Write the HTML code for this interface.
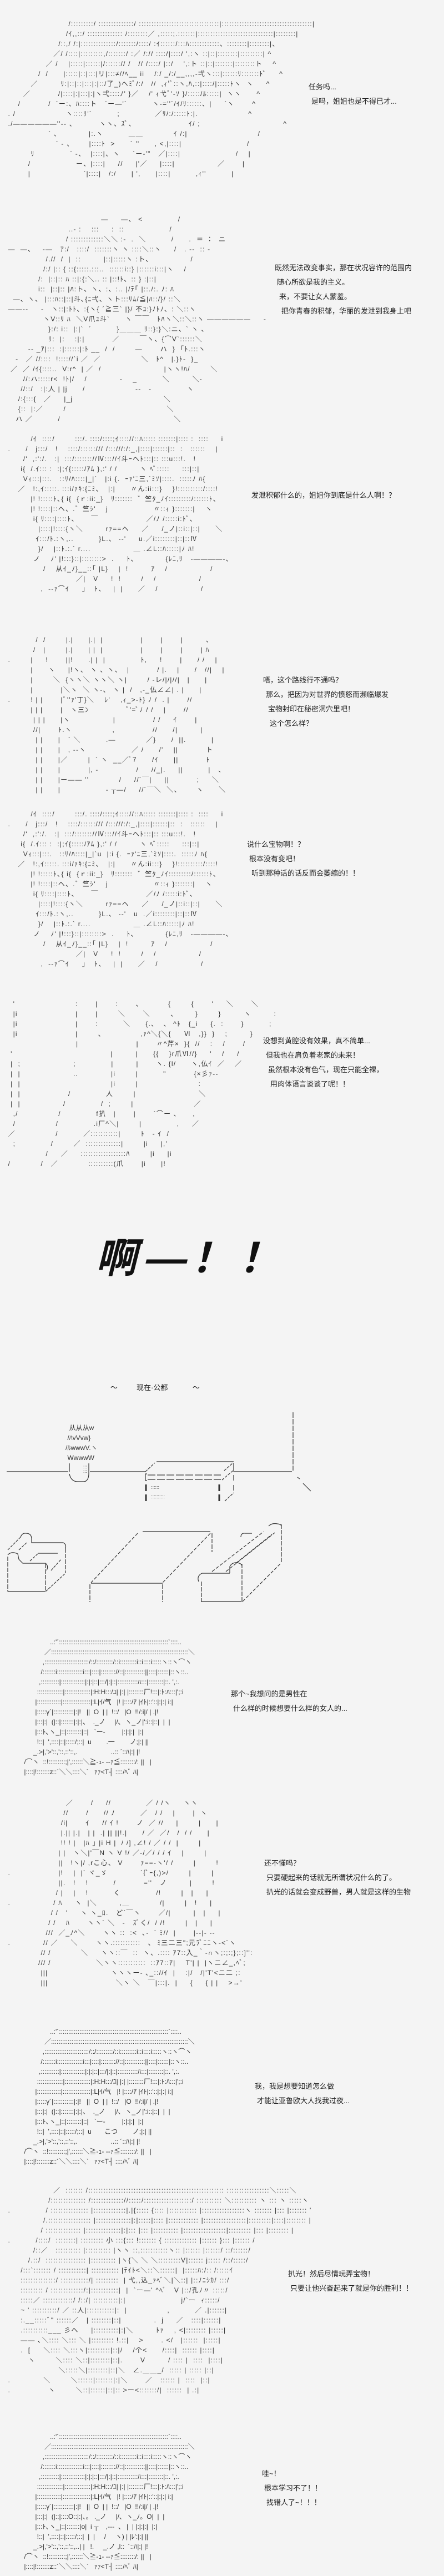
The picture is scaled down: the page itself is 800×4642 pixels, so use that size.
<!DOCTYPE html>
<html><head><meta charset="utf-8">
<style>
html,body{margin:0;padding:0;width:800px;height:4642px;overflow:hidden;background:#f4f4f4;}
#w{position:relative;width:800px;height:4642px;overflow:hidden;background:#f4f4f4;}
pre{position:absolute;margin:0;font-family:"Liberation Sans","Noto Sans CJK JP",sans-serif;font-size:12px;line-height:18px;color:#333;white-space:pre;letter-spacing:1.2px;}
pre.g{letter-spacing:0;}
.t{position:absolute;font-family:"Liberation Sans","Noto Sans CJK SC",sans-serif;font-size:13px;line-height:26px;color:#222;white-space:nowrap;}
.t div{height:26px;}
svg{position:absolute;left:0;top:0;}
</style></head><body><div id="w">

<pre style="left:10px;top:34px">                         /:::::::::/ ::::::::::::::/ ::::::::::::::::::::::::::::::::|::::::::::::::::::::::::::::::::::::|
                        /ｲ,,::/ :::::::::::::: /::::::::／ ,:::::;.:::::::|::::::::::::::::::::::::::::::|::::::::|
                     /::,/ /:|::::::::::::::/:::::::/::::/ :ｲ::::::/:::ﾊ::::::::::::、::::::::|::::::::|、
                   ／/ /::::|:::::::::,/:::::::/ :／ /:// ::::/|::::/ ',:ヽ ::|::|::::::::|:::::::::| ^
                ／ /    |:::::|::::::|/::::::// /   // /::::/ |::/    ',:ト ::|::|:::::::|::::::::ト    ^
             /  /      |:::::|::|:::|リ|:::≠//ﾍ__ ii    /:/ _/:/__,,,,-弌ヽ:::|::::::ﾘ:::::::ﾄﾞ     ^
          ／         ﾘ:|::|::|:::|:|::/了_)ヘﾐﾞ/:/   //  ,ｨ'ﾞ::ヽ,ﾊ,::|::::/|:::::ﾄヽ  ヽ     ^
       ／           /|::::|:|:::|:|ヽ弌::::ﾉ' }／    /' ｨ弋ﾞ'-ｿ }/:::::/ﾙ:::::|  ヽヽ      ^
     /           /  `ー:、ﾊ::::ト   `ー―'´          ヽ-=''´/ｲ/ﾘ::::::、|     `ヽ       ^
 . /                    ヽ::::ﾘ'´          ;              ／ﾘ/:/:::::ﾄ:|.                    ^
 ./――――――''-- 、         ヽヽ、ｽﾞ、                     ｲ/ ;                                 ^
                 ` 、           |:.ヽ          ＿＿            ｲ /:|                            /
                    ` - 、      |::::ﾄ  &gt;      ` ''      , &lt;,|::::|                          /
          ﾘ              ` -、  |::::|、ヽ     `ー-'"   ／|::::|                      /    |
         /                  ー、|::::|     //     |'／     |::::|                 ／       |
         |                     `|::::|   /:/      | ',      |::::|          ,ｨ''          |</pre>
<div class="t" style="left:556px;top:144px"><div>任务吗...</div><div style="padding-left:5px">是吗，姐姐也是不得已才...</div></div>

<pre style="left:10px;top:386px">                                      ―     ―、 &lt;              /
                         ..- :    :::     :  ::                  /
                        / :::::::::::::＼＼ :-  .  ＼          /      .  ＝ ：  ニ
 ―  ―、   -―   ｱ:/   ::::/  :::::::ヽ ヽ ::::＼::ヽ     /   . --  :: -
                /.//  /  |  ::         |::|:::::ヽ :ト、               /
               /:/ |:: { ::{:::::.:::..  ::::::i::} |::::::i:::|ヽ    /
             /:  |::|:: ﾊ ::|:{:＼.. :: |::!ﾄ、:: } :|::|
             i::  |::|:: |ﾊ:ト、ヽ、:、:.. |/ﾃ｢ |::./:. ﾉ: ﾊ
   ―、ヽ、 |:::ﾊ::|::|斗､{ﾆ弌、ヽト:::ﾘﾑ/≦|ﾊ::/}/ ::＼
 ――--     -   ヽ::|:ﾄﾄ、:{ヽ{ ´≧三` |}/ 不ﾕ:}ﾉﾄﾉ、: ＼::ヽ
               ヽV::ﾘ ﾊ  ＼V爪ﾕ斗`      ヽ ￣￣   ﾄﾊヽ＼::＼::ヽ ――――――     -
                 }:/: i::  |:|`  ´          }＿＿＿ ﾘ::}:}＼:ニ、` ヽ 、
                 ﾘ:  |:    :|:|           ／        ￣ヽ、{⌒V`::::::＼
         -- _ｱ|:::  :|::::::|:ﾄ __  /  /        ―       ハ  }  ｢ﾄ.:::ヽ
    -   ／ //::::  !:::://`i ／  ／                ＼   ﾄ^   |.}ﾄ-  }_
  ／  ／ /ｲ{::::..  V:r^  | ／  /                         |ヽヽ!ﾊ/        ＼
       //:ハ:::::r&lt;  !ﾄ|/    /             -    _          ＼         ＼-
      //::/   :|:人 | |j      /                    --   -              ヽ
     /:{:::{   ／     |_j                                    ＼
     {::  |:／        /                                        ＼
    ハ ／          /                                             ＼</pre>
<div class="t" style="left:495px;top:470px"><div>既然无法改变事实，那在状况容许的范围内</div><div style="padding-left:4px">随心所欲是我的主义。</div><div style="padding-left:8px">来，不要让女人蒙羞。</div><div style="padding-left:12px">把你青春的积郁，华丽的发泄到我身上吧</div></div>

<pre style="left:10px;top:782px">          /ｲ  ::::/        :::/. ::::/::::;ｲ:::://::ﾊ::::: :::::::|:::: :  ::::     i
 .      /   j:::/   !    ::::/::::::/// /:::///:/:_,|::::|::::::|::  :   ::::::    |
       /'  ,:':/.   :|  :::/::::::://Ⅳ::://ｲ斗ｰヘﾄ:::|:: :::u:::!.   !
      i{  /.ｲ::: :  :|;ｲ{:::::/ｱﾑ },:' / /         ヽ ﾍﾞ:::::     :::|::|
       Vｨ:::|:::.   ::ﾘ/ﾊ::::|_|`   |:i {.  ｰｧ'ﾆ三,`ﾐｿ|::::.  :::::ﾉ ﾊ{
     ／   !:,ｲ:::::. :::i/ｧｷ:{ﾆﾐ、  |:|      〃ん:ii:::}    }!::::::::::/::::!
          |! !:::::ﾄ､{ i{  {ｒ:ii:_}   ﾘ:::::::  ゛竺ﾀ_ﾉｲ:::::::::/::::::ﾄ、
          |! !::::|::ヘ、.゛竺ｼ'    j                  〃::ｨ }:::::::|    ヽ
           i{ ﾘ::::|::::ﾄ、     ￣                   ／/ﾉ /:::::i:ﾄﾞ､
             |::::|!::::{ヽ＼         rｧ==ヘ     ／     /_ノ|::i::|::|      ＼
            ｲ:::/ﾄ.:ヽ,..          }L.、 --'     u.／i::::::::|::|::Ⅳ
             }/    |::ﾄ.:.` r....                 ＿ .∠L::ﾊ:::::|ﾉ ﾊ!
           ノ    ﾉ' |!:::}::|::::::::&gt;  .     ﾄ、           {ﾚﾆ,ﾘ   -――――-、
               /    从ｲ_ﾉ}__::｢ |L}    |  !         ｱ    /                 /
                            ／|   V     !  !        /    /                 /
              ,  --ｧ⌒ｲ     」  ﾄ、   |  |      ／    /                 /</pre>
<div class="t" style="left:453px;top:880px"><div>发泄积郁什么的，姐姐你到底是什么人啊！？</div></div>

<pre style="left:10px;top:1144px">            /  /        |.|      |.|  |               |       |       |         、
           /   |        |.|      | |  |               |       |       |       | ﾊ
 .        |     !       ||!      .| |  |              ﾄ,     !       |      / /    |
          |      ヽ     |!ヽ、 ヽ 、ヽ、  |           / |.    |      /   //|    |
          |        ＼  {ヽヽ＼ ヽヽ＼ ヽ|        / -レ/|/|//|   |      |
          |           |＼ヽ  ＼ ヽ-、 ヽ |  /   ,-_仏∠∠| . |      |
 .        ! | |       |ﾞ''ｧ'丁}＼    ﾚ'    ,ｨ_&gt;-ﾄ} ﾉ /  . |       //
          | | |       |   ヽ三ﾝ               ﾞ'=ﾞﾉ / /    |       //
           | | |      |ヽ                 |               / /     ｲ       |
           //|       ﾄ.ヽ                ,               //      /|         |
            | |      |   ` ＼          .―            ／}      /  ||.          |
            | |      |   , --ヽ                  ／ /      /'    ||           ト
            | |      |／        |  ` ヽ  __／ﾞ7      /ｲ      ||           ﾄ
            | |      |           |, -               /     //_|.     ||          |   、
            | |      |ー―― ''            /     //´￣|     ||           ;     ＼
            | |      |                  - ┬―/     //´￣＼  ＼、      ヽ      ＼</pre>
<div class="t" style="left:474px;top:1213px"><div>唔，这个路线行不通吗？</div><div style="padding-left:5px">那么，把因为对世界的愤怒而濒临爆发</div><div style="padding-left:9px">宝物封印在秘密洞穴里吧！</div><div style="padding-left:12px">这个怎么样？</div></div>

<pre style="left:10px;top:1458px">          /ｲ  ::::/        :::/. ::::/::::;ｲ:::://::ﾊ::::: :::::::|:::: :  ::::     i
 .      /   j:::/   !    ::::/::::::/// /:::///:/:_,|::::|::::::|::  :   ::::::    |
       /'  ,:':/.   :|  :::/::::::://Ⅳ::://ｲ斗ｰヘﾄ:::|:: :::u:::!.   !
      i{  /.ｲ::: :  :|;ｲ{:::::/ｱﾑ },:' / /         ヽ ﾍﾞ:::::     :::|::|
       Vｨ:::|:::.   ::ﾘ/ﾊ::::|_|`u  |:i {.  ｰｧ'ﾆ三,`ﾐｿ|::::.  :::::ﾉ ﾊ{
     ／   !:,ｲ:::::. :::i/ｧｷ:{ﾆﾐ、  |:|      〃ん:ii:::}    }!::::::::::/::::!
          |! !:::::ﾄ､{ i{  {ｒ:ii:_}   ﾘ:::::::  ゛竺ﾀ_ﾉｲ:::::::::/::::::ﾄ、
          |! !::::|::ヘ、.゛竺ｼ'    j                  〃::ｨ }:::::::|    ヽ
           i{ ﾘ::::|::::ﾄ、     ￣                   ／/ﾉ /:::::i:ﾄﾞ､
             |::::|!::::{ヽ＼         rｧ==ヘ     ／     /_ノ|::i::|::|      ＼
            ｲ:::/ﾄ.:ヽ,..          }L.、 --'   u  .／i::::::::|::|::Ⅳ
             }/    |::ﾄ.:.` r....                 ＿ .∠L::ﾊ:::::|ﾉ ﾊ!
           ノ    ﾉ' |!:::}::|::::::::&gt;  .     ﾄ、           {ﾚﾆ,ﾘ   -――――-、
               /    从ｲ_ﾉ}__::｢ |L}    |  !         ｱ    /                 /
                            ／|   V     !  !        /    /                 /
              ,  --ｧ⌒ｲ     」  ﾄ、   |  |      ／    /                 /</pre>
<div class="t" style="left:445px;top:1509px"><div>说什么宝物啊！？</div><div style="padding-left:4px">根本没有变吧！</div><div style="padding-left:8px">听到那种话的话反而会萎缩的！！</div></div>

<pre style="left:10px;top:1800px">   '                        :       |       :       、          {        {       '     ＼       ＼
   |i                       |       |        ＼       ＼        、       }        }         ヽ         :
   |i                       |       :          ＼      {.、  、 ^ﾄ   {_i     {.  :       }          ;
   |i                       |        、              ,ｧ^＼{＼{     Ⅵ   ,}}  }    ;         }
                            |                       |       〃^芹×  }{  //    :    /       /
  '                                       |         |      {{    }r爪Ⅵ//}     '    /     /
  |  ;                     ;              |         |       ヽ. {l/      ヽ,仏ｲ  ／    ／
  |  |                     ..             |i        |          "           {×彡ｧ--
  |  |                                    |i        |                        :
  |  |                   /              人        |                         ＼
  |  |                 /              /  ;        |                        ／
   ,/                /              f扒   |       |       ´⌒ー ､      ,
   /                /              .i厂^＼|        |              ,     ／
 ／                /          ／:::::::::::|        ﾄ   ‐ ｲ  /
   ;              /        ／  ::::::::::::::|        |i     |,'
                /     ／     ::::::::::::::::::ﾊ        |i     |i
 /            /   ／            ::::::::::(爪       |i      |!</pre>
<div class="t" style="left:474px;top:1863px"><div>没想到黄腔没有效果，真不简单...</div><div style="padding-left:5px">但我也在肩负着老家的未来！</div><div style="padding-left:9px">虽然根本没有色气，现在只能全裸，</div><div style="padding-left:13px">用肉体语言谈谈了呢！！</div></div>

<div style="position:absolute;left:166px;top:2218px;font-family:'Liberation Sans','Noto Sans CJK SC',sans-serif;font-size:74px;line-height:100px;font-weight:bold;color:#111;transform:skewX(-14deg);transform-origin:0 100%;white-space:nowrap;letter-spacing:12px">啊—！！</div>

<div class="t" style="left:199px;top:2488px">～</div>
<div class="t" style="left:246px;top:2488px">现在·公都</div>
<div class="t" style="left:347px;top:2488px">～</div>

<pre style="left:118px;top:2564px;line-height:18px;letter-spacing:0">  从从从w
 /ﾊvVvw}
/ﾙwwwV.ヽ
 WwwwW</pre>
<pre style="left:267px;top:2672px;font-size:9px;line-height:17px;letter-spacing:0">  ::::::
  ::::::::::</pre>
<pre style="left:150px;top:2640px;font-size:8px;line-height:8px;letter-spacing:0">:::
:::</pre>
<svg width="800" height="4642" viewBox="0 0 800 4642" fill="none" stroke="#333" stroke-width="1.2">
 <line x1="12" y1="2652" x2="123" y2="2652"/>
 <line x1="125" y1="2637" x2="125" y2="2652"/>
 <line x1="160" y1="2637" x2="160" y2="2655"/>
 <path d="M125 2656 Q128 2670 140 2670 L152 2670 Q160 2668 160 2655"/>
 <line x1="162" y1="2652" x2="262" y2="2652"/>
 <line x1="262" y1="2652" x2="279" y2="2636" stroke-dasharray="5 2"/>
 <line x1="282" y1="2634" x2="421" y2="2634"/>
 <line x1="421" y1="2636" x2="421" y2="2652"/>
 <line x1="404" y1="2650" x2="420" y2="2636" stroke-dasharray="5 2"/>
 <line x1="400" y1="2667" x2="420" y2="2650" stroke-dasharray="5 2"/>
 <path d="M265 2656 L262 2656 L262 2668 L265 2668"/>
 <line x1="266" y1="2658" x2="398" y2="2658" stroke-dasharray="14 3"/>
 <line x1="266" y1="2666" x2="398" y2="2666" stroke-dasharray="14 3"/>
 <line x1="263" y1="2675" x2="263" y2="2687" stroke-width="3"/>
 <line x1="263" y1="2693" x2="263" y2="2705" stroke-width="3"/>
 <line x1="395" y1="2675" x2="395" y2="2687" stroke-width="3"/>
 <line x1="395" y1="2693" x2="395" y2="2705" stroke-width="3"/>
 <line x1="421" y1="2658" x2="421" y2="2668"/>
 <line x1="421" y1="2676" x2="421" y2="2686"/>
 <line x1="405" y1="2705" x2="421" y2="2690" stroke-dasharray="5 2"/>
 <line x1="422" y1="2652" x2="526" y2="2652"/>
 <line x1="528" y1="2545" x2="528" y2="2650" stroke-dasharray="10 2"/>
 <line x1="536" y1="2662" x2="540" y2="2665"/>
 <line x1="546" y1="2673" x2="560" y2="2687"/>

 <line x1="14" y1="2805" x2="14" y2="2868" stroke-dasharray="8 2"/>
 <line x1="14" y1="2868" x2="81" y2="2868"/>
 <line x1="82" y1="2818" x2="82" y2="2868" stroke-dasharray="8 2"/>
 <line x1="82" y1="2868" x2="118" y2="2835" stroke-dasharray="5 2"/>
 <line x1="118" y1="2790" x2="118" y2="2835" stroke-dasharray="8 2"/>
 <path d="M37 2770 Q40 2762 47 2763 Q56 2763 57 2772 L57 2780 L114 2780 Q120 2783 118 2790"/>
 <line x1="14" y1="2793" x2="37" y2="2770" stroke-dasharray="5 2"/>
 <line x1="34" y1="2793" x2="48" y2="2780" stroke-dasharray="5 2"/>
 <path d="M14 2802 Q20 2795 32 2800 L34 2810 L41 2817 L82 2817 Q88 2822 84 2830"/>
 <line x1="68" y1="2799" x2="104" y2="2799"/>
 <line x1="54" y1="2813" x2="68" y2="2800" stroke-dasharray="5 2"/>
 <line x1="92" y1="2830" x2="110" y2="2810" stroke-dasharray="5 2"/>

 <line x1="257" y1="2760" x2="379" y2="2760"/>
 <line x1="248" y1="2763" x2="164" y2="2852" stroke-dasharray="6 3"/>
 <line x1="379" y1="2763" x2="293" y2="2852" stroke-dasharray="6 3"/>
 <line x1="164" y1="2853" x2="293" y2="2853"/>
 <line x1="162" y1="2855" x2="162" y2="2887" stroke-dasharray="8 2"/>
 <line x1="293" y1="2855" x2="293" y2="2887" stroke-dasharray="8 2"/>
 <line x1="382" y1="2763" x2="382" y2="2797" stroke-dasharray="8 2"/>

 <line x1="364" y1="2835" x2="414" y2="2835"/>
 <path d="M364 2835 Q354 2840 358 2850"/>
 <line x1="363" y1="2850" x2="363" y2="2887" stroke-dasharray="8 2"/>
 <line x1="363" y1="2886" x2="435" y2="2886"/>
 <line x1="436" y1="2818" x2="436" y2="2886" stroke-dasharray="8 2"/>
 <path d="M414 2835 L414 2823 Q418 2815 428 2816 Q436 2818 436 2822"/>
 <line x1="437" y1="2886" x2="507" y2="2816" stroke-dasharray="6 3"/>
 <line x1="507" y1="2747" x2="507" y2="2815" stroke-dasharray="8 2"/>
 <path d="M484 2750 Q490 2744 500 2746 Q507 2747 507 2750"/>
 <path d="M434 2770 Q434 2762 442 2763 L454 2763"/>
 <line x1="382" y1="2832" x2="475" y2="2760" stroke-dasharray="6 3"/>
 <line x1="407" y1="2832" x2="495" y2="2762" stroke-dasharray="6 3"/>
 <line x1="425" y1="2817" x2="490" y2="2765" stroke-dasharray="6 3"/>
</svg>

<pre class="g" style="left:30px;top:2950px">                  ..:'´:::::::::::::::::::::::::::::::::::::::::::::::::::::::::::`::::..
               ／::::::::::::::::::::::::::::::::::::::::::::::::::::::::::::::::::::::::::＼
              ,::::::::::::::::::::::::/::/:::::::::/::i:::::::::i::i::::i:::::ヽ::ヽ⌒ヽ
             /:::::::i::::::::::::::i:::|::::|:::::::://::|:::::::::::||::::|::::::|::ヽ::..
            ,::::::::::|:::::::::::::|:|:|::|:::/|:|::|:::::::::::ﾊ:::|::::::::|::. ',:.
           ::::::::::::::|::::::::::::::|:H:H:::/ﾕ| |:| |::::::::厂!:::|:ﾄ:ﾊ:::|';:i
          |:::::::::::::|:::::::::::::::|:L|ｲ/气   |! |::::/ｱ |ｲﾄ|::'::|:|:| i:|
          |:::::γ´|:::::::::::|:|!   ||  O  | |  !::/   |O  !!/:i|/ | .|!
          |:::|:|  (|::|:::::::|:|:|、  ._ノ     |/､  ヽ_ノ|':i::|::|  |  |
          |:::ﾄ､ヽ_|::|::::::::|::|   `ー-         |:|:|:|  |:|
           !::|  ',::::|::|:::::/;::|  u        .一        ノ;|:| ||
         _.&gt;|,'&gt;'::,'::,::'::,.                  ..:: ´::ﾊ|:| |!
    /⌒ヽ  ::!:::::::::;|',::::::＼≧-ｭ- --ｧ≦::::::::/: ||   |
    |::::|!:::::::z::´＼＼::::＼`   ｧｧ&lt;T┤ ::::/ﾍﾞ ﾊ|</pre>
<div class="t" style="left:416px;top:3040px"><div>那个~我想问的是男性在</div><div style="padding-left:4px">什么样的时候想要什么样的女人的...</div></div>

<pre style="left:10px;top:3240px">                        ／       /     //              ／ / /ヽ     ヽヽ
                       //       /      // ﾉ          ／   / /    |       |  ヽ
                      /i|       ｲ     // ｲ !       ノ  ／ //     |        |      |
                      |.|| |.|   | |  .| || ||!.|      / ／  ／/   /  / /      |
                      !! ! |   |ﾊ ｣ |i H |  / /] ,∠! / ／ / /  |        |
                     | |   ヽ＼|'￣N ヽ V !/ ／-/／/ / / ｲ    |        |
                     ||   !ヽ|/ ,rこ心、 V       ｧ==-ヽ'/ /        |        !
 .                   |!    |  |` ヾ_ゞ             ´{ﾞｰ{,)&gt;/        |        |
                     ||.   !    !          /           =''   ノ         |        !
                    / |    |    !          く              /!        |   |     |
 .                 / ﾊ     ヽ  |＼         ,＿            /|        |   !     |
                  / /   '     ヽ ヽ_ﾛ.   ど´￣ヽ       ／/|         |   |     |
                 / /    ﾊ       ヽヽ` ＼   -   ｽﾞく/  / /!        |   |     |
                ///  ／_ﾉ^＼       ヽヽ ::  :&lt;  ､-  ` ﾐ//  |       |--|- --
 .             // ／     ＼       ヽヽ.:::::::::::   ､  ﾐ三二三";元ﾗﾞﾆﾆヽ-&lt;`ヽ
              // /            ＼     ヽヽ::￣  ::  ヽ、.:::: ｱ7::入_｀-∩ヽ;:;:;};::]'':
             /// /                  ＼ヽヽ:::::::::::  ::ｱ7::ｱ|    T'| |  |ヽニ∠_,ﾍﾞ;
              |||                         ヽヽヽー- ､_:://ｲ  |    :|/   /|'T'&lt;ニ二 ;:
              |||                           ＼ヽ ＼   ￣|:::|.  |     {     { | |    &gt;→'</pre>
<div class="t" style="left:476px;top:3345px"><div>还不懂吗？</div><div style="padding-left:4px">只要硬起来的话就无所谓状况什么的了。</div><div style="padding-left:4px">扒光的话就会变成野兽，男人就是这样的生物</div></div>

<pre class="g" style="left:30px;top:3652px">                  ..:'´:::::::::::::::::::::::::::::::::::::::::::::::::::::::::::`::::..
               ／::::::::::::::::::::::::::::::::::::::::::::::::::::::::::::::::::::::::::＼
              ,::::::::::::::::::::::::/::/:::::::::/::i:::::::::i::i::::i:::::ヽ::ヽ⌒ヽ
             /:::::::i::::::::::::::i:::|::::|:::::::://::|:::::::::::||::::|::::::|::ヽ::..
            ,::::::::::|:::::::::::::|:|:|::|:::/|:|::|:::::::::::ﾊ:::|::::::::|::. ',:.
           ::::::::::::::|::::::::::::::|:H:H:::/ﾕ| |:| |::::::::厂!:::|:ﾄ:ﾊ:::|';:i
          |:::::::::::::|:::::::::::::::|:L|ｲ/气   |! |::::/ｱ |ｲﾄ|::'::|:|:| i:|
          |:::::γ´|:::::::::::|:|!   ||  O  | |  !::/   |O  !!/:i|/ | .|!
          |:::|:|  (|::|:::::::|:|:|、  ._ノ     |/､  ヽ_ノ|':i::|::|  |  |
          |:::ﾄ､ヽ_|::|::::::::|::|   `ー-         |:|:|:|  |:|
           !::|  ',::::|::|:::::/;::|  u       こつ        ノ;|:| ||
         _.&gt;|,'&gt;'::,'::,::'::,.                  ..:: ´::ﾊ|:| |!
    /⌒ヽ  ::!:::::::::;|',::::::＼≧-ｭ- --ｧ≦::::::::/: ||   |
    |::::|!:::::::z::´＼＼::::＼`   ｧｧ&lt;T┤ ::::/ﾍﾞ ﾊ|</pre>
<div class="t" style="left:459px;top:3747px"><div>我，我是想要知道怎么做</div><div style="padding-left:4px">才能让亚鲁欧大人找我过夜...</div></div>

<pre style="left:10px;top:3938px">                   ／  ::::::: /:::::::::::::::::::::::::::::::::::::::::::::::::::::: :::::::::::::::::＼:::::＼
                 /:::::::::::::: /::::::::::::://:::::/:::::::::::::::::::/ :::::::::: ＼:::::::::: ヽ ::: ヽ :::::ヽ
 .              / ::::::::::::::: |:::::::::::::|.|{::::: {:::: |::::::::::: |:::::::::::::::::ヽ ::::::: |::: |::::::: '
               /.::::::::::::::::: |::::::::::::::|:|:::::|:::: |:::::::::::: |:::::::::::::::::|:::::::::|::::|:::::::: |
              / :::::::::::::: |::::::::::::::|:|::: |::: |:::::::::: |:::::::::::::::::|::::::::: |::: |:::::::: |
 .          /::::/  ::::::::| ::::::::: 小 :::{::: !::::::: { ::::::::::::: |:::::: }::: |:::::: /
           /::／   :::::::::: |:::::::::: |ヽヽ ::,:::::::::::ヽ:: |:::::: |::::::/ ::/::::::/
         /.::/  :::::::::::::::: |:::::::::: |ヽ{＼ ＼ ＼:::::::::V|:::::: j::::: /::/:::::/
      /:::`::::::: / :::::::::::| ::::::::::: |ﾃｲﾄ&lt;＼::＼::::::|  |:::::ﾊ:/:: /:::::ｲ
      ::::::::::::::/ :::::::::::/| :::::::::  | 弋,,込_ｧﾍﾞ＼|＼::| |::ﾉﾆｼｶ/ :::/
      ::::::::: / :::::::::::::/:|:::::::::::|  |  `ー―' ^ﾍﾞ   V |::/孔ﾉ〃 :::::/
      :::::／ ::::::::::::/ /::/| ::::::::::|:|                      j/`ー  ｨ:::::/
      ~ ' ::::::::::/ ／ ::人|:::::::::::|:  |                ,          ／ .|::::::|
      :.__:::::ﾞ" ::::::／   | ::::::::|::|             .  j     ／   ::::|::::::|
      .::::::::::___ 彡ヘ     |::::::::::|:|＼         ﾄｧ    , &lt;|:::::::: |:::::|
      ―― ､＼:::: ＼::: ＼ |::::::::: !.::|    &gt;       . &lt;/   |::::::  |:::::|
      .  [     ＼:::: ＼:::ヽ|:::::::::|::|/    /个&lt;      /::::|  :::::: |::::|
         ヽ        ＼:::: ＼::|::::::::|::|.       V         / :::: |  ::::  |::::|
                     ＼:::::＼|::::::::|::|＼   ∠.＿＿_/  ::::: | ::::: |::|
 .             ＼        ＼::::::|:::::::|:|＼       ／   :::::: |  ::::  |::|
 .               ヽ        ＼::|::::::|::|:: &gt;ー&lt;:::::::/|  ::::::  | .:|</pre>
<div class="t" style="left:519px;top:4085px"><div>扒光！然后尽情玩弄宝物！</div><div style="padding-left:4px">只要让他兴奋起来了就是你的胜利！！</div></div>

<pre class="g" style="left:30px;top:4382px">                  ..:'´:::::::::::::::::::::::::::::::::::::::::::::::::::::::::::`::::..
               ／::::::::::::::::::::::::::::::::::::::::::::::::::::::::::::::::::::::::::＼
              ,::::::::::::::::::::::::/::/:::::::::/::i:::::::::i::i::::i:::::ヽ::ヽ⌒ヽ
             /:::::::i::::::::::::::i:::|::::|:::::::://::|:::::::::::||::::|::::::|::ヽ::..
            ,::::::::::|:::::::::::::|:|:|::|:::/|:|::|:::::::::::ﾊ:::|::::::::|::. ',:.
           ::::::::::::::|::::::::::::::|:H:H:::/ﾕ| |:| |::::::::厂!:::|:ﾄ:ﾊ:::|';:i
          |:::::::::::::|:::::::::::::::|:L|ｲ/气   |! |::::/ｱ |ｲﾄ|::'::|:|:| i:|
          |:::::γ´|:::::::::::|:|!   ||  O  | |  !::/   |O  !!/:i|/ | .|!
          |:::|:|  (|::|::::O::|:|、。 ._ノ     |/､  ヽ_ﾉ。O|  |  |
          |:::ﾄ､ヽ_|::|:::::::|o|  i ┬    ,---  、 |  | |:|:|:|  |:|
           !::|  ',::::|::|:::::/;::|  |  |     /     ヽ) | |ﾚ':|:| ||
         _.&gt;|,'&gt;'::,'::,::'::,..| |   !.     _.ノ ,l::  ´::ﾊ|:| |!
    /⌒ヽ  ::!:::::::::;|',::::::＼≧-ｭ- --ｧ≦::::::::/: ||   |
    |::::|!:::::::z::´＼＼::::＼`   ｧｧ&lt;T┤ ::::/ﾍﾞ ﾊ|</pre>
<div class="t" style="left:472px;top:4445px"><div>哇~！</div><div style="padding-left:4px">根本学习不了！！</div><div style="padding-left:8px">找错人了~！！！</div></div>

</div></body></html>
